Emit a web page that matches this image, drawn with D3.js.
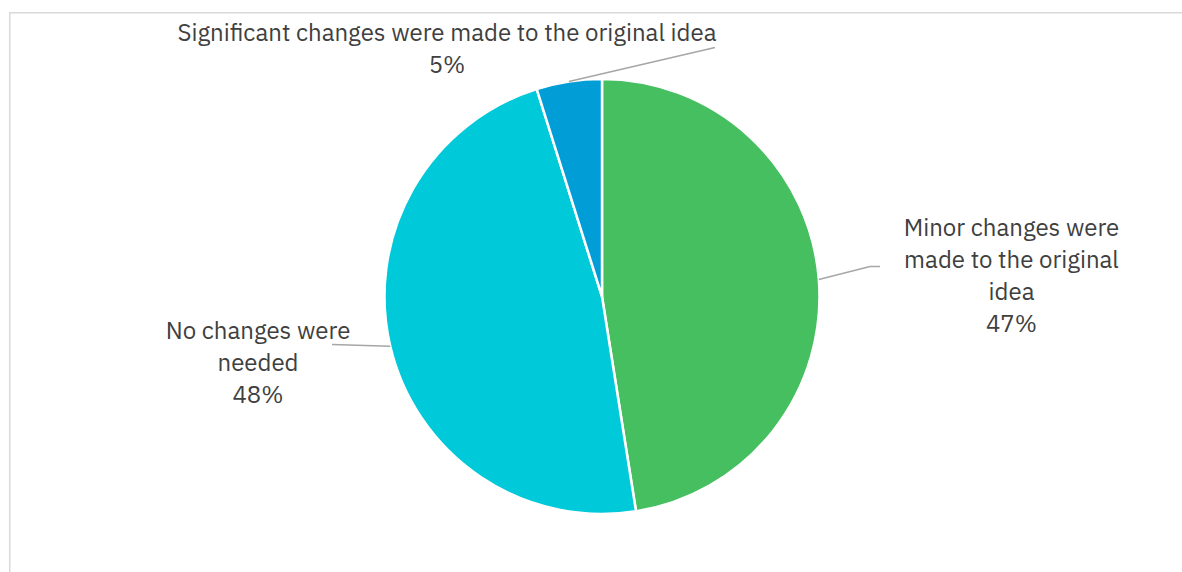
<!DOCTYPE html>
<html><head><meta charset="utf-8">
<script src="https://cdn.jsdelivr.net/npm/d3@7"></script>
<style>html,body{margin:0;padding:0;background:#fff;overflow:hidden}</style>
</head><body>
<svg id="chart" width="1182" height="572"></svg>
<script>
const categories = ["Minor changes were made to the original idea", "No changes were needed", "Significant changes were made to the original idea"];
const values = [47.5, 47.65, 4.85];
const percentLabels = ["47%", "48%", "5%"];
const labelLines = [["Minor changes were", "made to the original", "idea"], ["No changes were", "needed"], ["Significant changes were made to the original idea"]];
const colors = ["#45BF5F", "#00C9D9", "#019DD6"];

const svg = d3.select("#chart");
const W = 1182, H = 572;
// frame
svg.append("rect").attr("x", 9.75).attr("y", 12.75).attr("width", W + 20).attr("height", H + 20)
  .attr("fill", "none").attr("stroke", "#D9D9D9").attr("stroke-width", 1.5);

const cx = 602, cy = 296.5, R = 217.5;
const g = svg.append("g").attr("transform", `translate(${cx},${cy})`);
const data = categories.map((c, i) => ({ c, v: values[i], pct: percentLabels[i], lines: labelLines[i], color: colors[i] }));
const pie = d3.pie().value(d => d.v).sort(null).startAngle(0).endAngle(2 * Math.PI);
const arcs = pie(data);
const arc = d3.arc().innerRadius(0).outerRadius(R);
g.selectAll("path.slice").data(arcs).join("path").attr("class", "slice")
  .attr("d", arc).attr("fill", d => d.data.color).attr("stroke", "#fff").attr("stroke-width", 2.5).attr("stroke-linejoin", "round");

// label layout (relative to pie centre)
const layout = [
  { lx: 409.5, ly: -68.5, leader: [[268, -30], [278, -30]] },
  { lx: -344, ly: 34.5, leader: [[-270, 48]] },
  { lx: -155, ly: -263.5, leader: [[113, -249]] }
];
const lineH = 31.7;
const outer = d3.arc().innerRadius(R).outerRadius(R);
arcs.forEach((a, i) => {
  const L = layout[i];
  const p = outer.centroid(a);
  const pts = [p].concat(L.leader);
  g.append("path").attr("d", d3.line()(pts)).attr("fill", "none").attr("stroke", "#A6A6A6").attr("stroke-width", 1.5);
  const lines = a.data.lines.concat([a.data.pct]);
  const t = g.append("text").attr("text-anchor", "middle").attr("fill", "#404040")
    .attr("font-family", "'IBM Plex Sans', 'Noto Sans', sans-serif").attr("font-size", 24);
  lines.forEach((s, k) => {
    t.append("tspan").attr("x", L.lx).attr("y", L.ly + k * lineH).attr("dy", "0.35em").text(s);
  });
});
</script>
</body></html>
